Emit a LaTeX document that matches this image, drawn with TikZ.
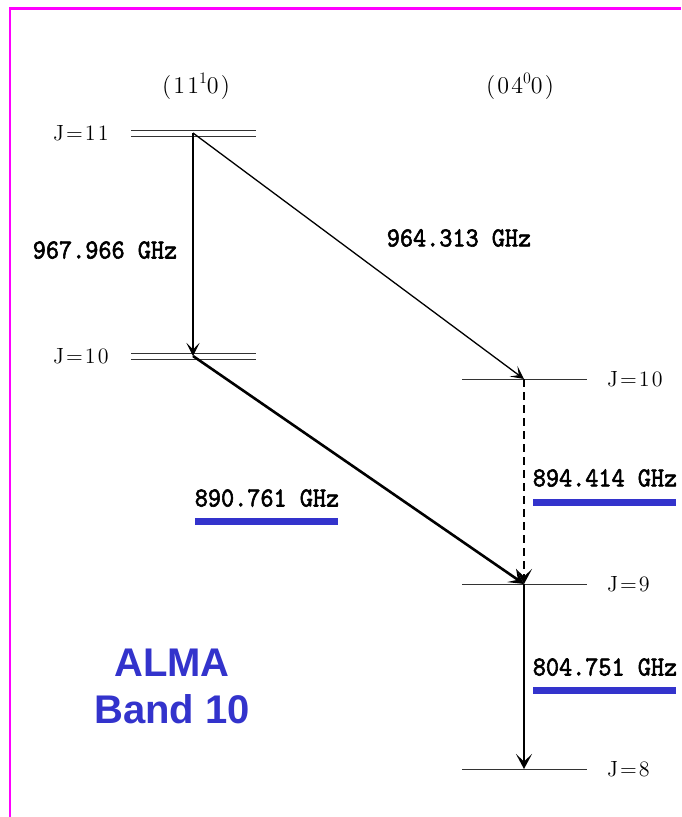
\documentclass[tikz,border=0pt]{standalone}
\usepackage{fontspec}
\usepackage{graphicx}
\usetikzlibrary{arrows.meta}
\newfontfamily\lmsp{lmroman12-regular.otf}[LetterSpace=9]
\newfontfamily\freqfont{lmmono10-regular.otf}[FakeBold=2.2]
\newfontfamily\almafont{Liberation Sans}
\definecolor{almablue}{RGB}{51,51,204}
\definecolor{frame}{RGB}{255,0,255}
\newcommand{\freq}[1]{\scalebox{1}[1.1]{\freqfont\fontsize{25}{27}\selectfont #1}}
\newcommand{\vib}[2]{{\lmsp\fontsize{24}{26}\selectfont (#1\raisebox{0.4em}{\fontsize{16}{16}\selectfont #2}0)}}
\begin{document}
\begin{tikzpicture}[x=1pt,y=-1pt,
  levelline/.style={draw=black!80,line width=1pt},
  jlabel/.style={inner sep=0pt,font=\lmsp\fontsize{22}{24}\selectfont},
  freqlabel/.style={inner sep=0pt},
  bluebar/.style={draw=almablue,line width=7pt},
  thinarrow/.style={draw=black,line width=1.3pt,-{Stealth[length=13pt,width=13pt,inset=6.5pt]}},
  thickarrow/.style={draw=black,line width=2.6pt,-{Stealth[length=15pt,width=16pt,inset=7.5pt]}},
  dasharrow/.style={thickarrow,dash pattern=on 8pt off 5pt}]
\useasboundingbox (0,0) rectangle (681,817);
\fill[white] (0,0) rectangle (681,817);
% frame
\draw[frame,line width=2.5pt] (10,817) -- (10,8.5) -- (681,8.5);

% vibrational state labels
\node[inner sep=0pt] (v1) at (196,86) {\vib{11}{1}};
\node[inner sep=0pt] (v2) at (520,86) {\vib{04}{0}};

% left levels (double lines)
\draw[levelline] (131,130) -- (256,130);
\draw[levelline] (131,136) -- (256,136);
\draw[levelline] (131,353) -- (256,353);
\draw[levelline] (131,359) -- (256,359);
\node[jlabel,anchor=west] (j11) at (53,133) {J=11};
\node[jlabel,anchor=west] (j10l) at (53,356) {J=10};

% right levels
\draw[levelline] (462,379) -- (587,379);
\draw[levelline] (462,584) -- (587,584);
\draw[levelline] (462,769) -- (587,769);
\node[jlabel,anchor=west] (j10r) at (607,379) {J=10};
\node[jlabel,anchor=west] (j9) at (607,584) {J=9};
\node[jlabel,anchor=west] (j8) at (607,769) {J=8};

% endpoints
\coordinate (a11) at (193,133);
\coordinate (a10) at (193,356);
\coordinate (b10) at (524,379);
\coordinate (b9) at (524,584);
\coordinate (b8) at (524,769);

% transitions
\draw[thinarrow] (a11) -- (a10);
\draw[thinarrow] (a11) -- (b10);
\draw[thickarrow] (a10) -- (b9);
\draw[dasharrow] (b10) -- (b9);
\draw[thickarrow] (b9) -- (b8);

% frequency labels
\node[freqlabel] (f1) at (105,250) {\freq{967.966 GHz}};
\node[freqlabel] (f2) at (459,238) {\freq{964.313 GHz}};
\node[freqlabel] (f3) at (267,498) {\freq{890.761 GHz}};
\node[freqlabel] (f4) at (605,478) {\freq{894.414 GHz}};
\node[freqlabel] (f5) at (605,667) {\freq{804.751 GHz}};

% blue bars
\draw[bluebar] (195,521.5) -- (338,521.5);
\draw[bluebar] (533,502.5) -- (676,502.5);
\draw[bluebar] (533,690.5) -- (676,690.5);

% ALMA label
\node[inner sep=0pt,text=almablue,font=\almafont\bfseries\fontsize{40}{47}\selectfont,align=center] (alma) at (172,686) {ALMA\\Band 10};
\end{tikzpicture}
\end{document}
